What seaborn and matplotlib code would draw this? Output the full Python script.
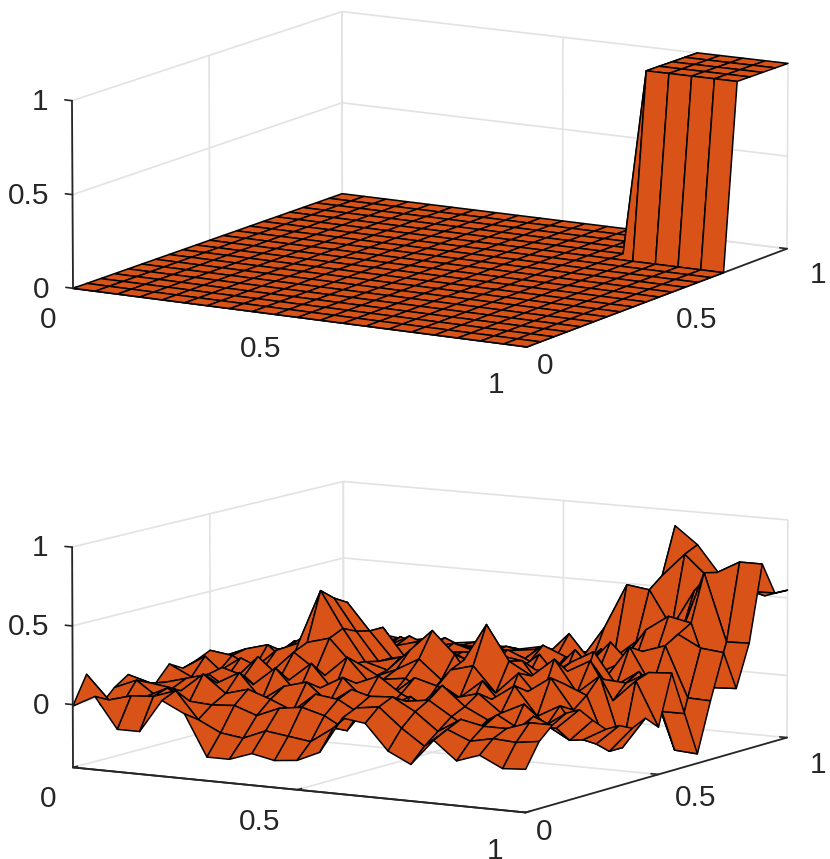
import numpy as np
import matplotlib
matplotlib.use("Agg")
import matplotlib.pyplot as plt
import seaborn as sns
from mpl_toolkits.mplot3d import proj3d

sns.set_theme(style="white")
plt.rcParams['font.family'] = ['Liberation Sans', 'DejaVu Sans']

grid_x = np.linspace(0, 1, 21)
grid_y = np.linspace(0, 1, 21)
step_start = 0.8
surface_color = "#D95319"

# bottom panel heights, one row per y index, one column per x index
z_rows = [
 [-.01,.065,-.13,-.13,.08,.01,-.25,-.25,-.20,-.23,-.215,-.15,.08,.06,-.10,-.17,-.005,-.12,-.07,-.14,-.13],
 [.17,.02,.06,.07,.12,-.05,-.12,-.14,-.08,-.10,-.12,-.02,.12,.14,.02,-.08,.04,-.02,.01,.00,.02],
 [-.05,-.02,.03,.10,.03,.02,.03,-.02,.04,.06,.02,-.06,.17,.18,.10,-.01,.08,.05,.05,.10,.10],
 [.04,.10,.00,.06,.18,.07,.11,.06,.00,.12,.10,.02,.05,.13,.15,.06,-.03,.10,.02,.05,.15],
 [.10,.06,.04,.00,.10,.18,.02,.12,.16,.04,.14,.10,-.03,.08,.22,.10,.03,-.05,.08,.02,.15],
 [.02,.04,.08,.12,.03,.08,.20,.05,.10,.18,.05,.02,.10,.00,.12,.16,.05,.12,.00,-.08,.06],
 [.00,-.03,.02,.14,.10,-.02,.10,.22,.06,.12,.18,.08,.02,.14,.03,.10,.20,.02,.10,-.10,-.02],
 [.10,.03,-.05,.05,.20,.08,.04,.12,.25,.10,.04,.16,.12,.06,.18,.02,.14,.24,.05,-.15,-.02],
 [.05,.14,.02,-.02,.08,.22,.12,.05,.18,.10,.12,.02,.20,.24,.08,.22,.06,.18,.12,-.22,-.06],
 [.08,.02,.12,.06,.00,.26,.30,.15,.08,.14,.22,.10,.24,.48,.26,.18,.30,.10,.22,-.22,-.02],
 [.12,.10,.03,.16,.22,.57,.34,.14,.10,.24,.38,.24,.04,.26,.24,.06,.20,.28,.04,.18,-.10],
 [.06,.12,.16,.04,.30,.50,.30,.12,.16,.10,.24,.18,.10,.02,.16,.16,.05,.14,.13,.21,.22],
 [.02,.08,.10,.20,.16,.45,.28,.12,.14,.16,.12,.10,.16,.06,.10,.20,.28,.08,.18,-.06,-.06],
 [.05,.00,.14,.10,.16,.22,.28,.10,.18,.12,.14,.12,.08,.20,.04,.14,.10,.30,.06,-.33,-.34],
 [.02,.06,.04,.18,.08,.20,.14,.18,.12,.14,.14,.18,.12,.06,.22,.08,.16,.25,.30,-.02,-.025],
 [.00,.03,.08,.06,.16,.10,.18,.12,.16,.12,.12,.08,.20,.14,.10,.26,.12,.20,.35,.275,.26],
 [.02,.00,.05,.10,.04,.14,.08,.16,.10,.14,.10,.06,.10,.04,.18,.12,.33,.43,.40,.00,.008],
 [.00,.02,.00,.04,.08,.03,.10,.06,.10,.08,.04,.08,.23,.06,.10,.22,.33,.30,.70,.27,.275],
 [.02,.00,.03,.00,.05,.04,.02,.06,.03,.06,.08,.03,.05,.26,.55,.53,.30,.55,.68,.76,.76],
 [-.02,.01,.00,.03,.01,.04,.03,.02,.05,.02,.04,.06,.03,.08,.25,.60,.75,.62,.60,.55,.553],
 [.00,-.02,.02,.00,.03,.01,.03,.02,.01,.04,.02,.03,.05,.04,.20,.90,.79,.61,.55,.50,.549],
]

xy_ticks = [0, 0.5, 1]
xy_labels = ["0", "0.5", "1"]
z_ticks = [0, 0.5, 1]
z_labels = ["0", "0.5", "1"]
x_pads = [9, 9, 15]
y_pads = [-2, 2, 6]

W, H = 830, 859
fig = plt.figure(figsize=(W/100, H/100), dpi=100)


def panel(Z, zmin, zmax, elev, azim, aspect, left_px, right_px, focal):
    ax = fig.add_axes([0.1, 0.1, 0.5, 0.5], projection="3d", proj_type="persp", focal_length=focal)
    ax.patch.set_alpha(0)
    X, Y = np.meshgrid(grid_x, grid_y)
    ax.plot_surface(X, Y, Z, rstride=1, cstride=1, color=surface_color, shade=False,
                    edgecolor="black", linewidth=1.1, antialiased=True)
    ax.plot3D([0, 0], [0, 0], [zmin, zmax], color="#262626", linewidth=1.3)
    ax.view_init(elev=elev, azim=azim)
    ax.set_box_aspect(aspect)
    ax.set_xlim(0, 1, view_margin=0)
    ax.set_ylim(0, 1, view_margin=0)
    ax.set_zlim(zmin, zmax, view_margin=0)
    ax.set_xticks(xy_ticks, xy_labels)
    ax.set_yticks(xy_ticks, xy_labels)
    ax.set_zticks(z_ticks, z_labels)
    ax.zaxis._axinfo['juggled'] = (1, 0, 2)
    for axis in (ax.xaxis, ax.yaxis, ax.zaxis):
        axis.set_pane_color((1, 1, 1, 0))
        axis.pane.set_edgecolor((1, 1, 1, 0))
        axis.line.set_color("#262626")
        axis.line.set_linewidth(1.3)
        axis._axinfo['grid'].update(color="#e2e2e2", linewidth=1.2)
        axis._axinfo['tick'].update(inward_factor=0.0, outward_factor=0.2, linewidth={True: 1.2, False: 0.8})
        axis.set_tick_params(labelsize=21.5, labelcolor="#262626", color="#262626")
    ax.tick_params(axis="z", pad=1)
    for tick, pad in zip(ax.xaxis.get_major_ticks(), x_pads):
        tick.set_pad(pad)
    for tick, pad in zip(ax.yaxis.get_major_ticks(), y_pads):
        tick.set_pad(pad)
    for t in ax.get_yticklabels():
        t.set_va("top")
        t.set_ha("left")
    for t in ax.get_xticklabels():
        t.set_va("top")
        t.set_ha("right")
    for t in ax.get_zticklabels():
        t.set_ha("right")
        t.set_va("center")
    # place the box so that its left and right corners land on the wanted pixels
    for _ in range(6):
        fig.canvas.draw()
        M = ax.get_proj()
        pts = []
        for (a, b, c) in [(0, 0, zmin), (1, 1, zmin)]:
            u, v, _w = proj3d.proj_transform(a, b, c, M)
            pts.append(ax.transData.transform((u, v)))
        (x0, y0), (x1, y1) = pts
        p = ax.get_position()
        s = (right_px[0] - left_px[0]) / (x1 - x0)
        w_px = p.width * W * s
        cx_px = (p.x0 + p.width/2) * W
        cy_px = (p.y0 + p.height/2) * H
        nx = right_px[0] - (x1 - cx_px) * s - w_px/2
        ny = (H - (left_px[1] + right_px[1]) / 2) - ((y0 + y1) / 2 - cy_px) * s - w_px/2
        ax.set_position([nx/W, ny/H, w_px/W, w_px/H])
    return ax


X_top, Y_top = np.meshgrid(grid_x, grid_y)
Z_top = np.where((X_top >= step_start - 1e-9) & (Y_top >= step_start - 1e-9), 1.0, 0.0)
panel(Z_top, 0, 1, 12.0, -59.5, (1, 1, 0.365), (73, 287), (787, 250), 3.5)
panel(np.array(z_rows), -0.4, 1, 9.0, -59.3, (1, 1, 0.425), (73, 767), (787, 738), 3.5)

fig.savefig("out.png", dpi=100)
